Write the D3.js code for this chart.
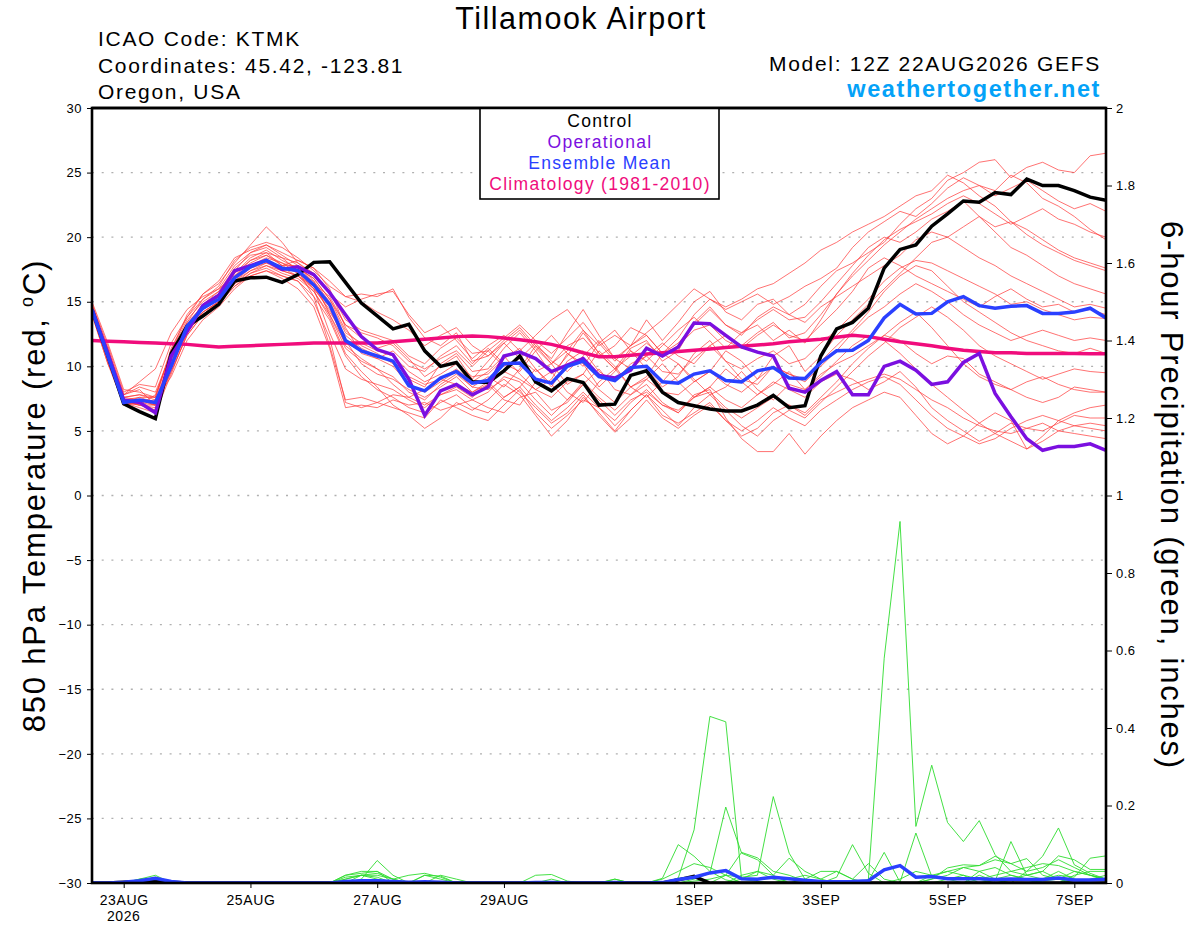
<!DOCTYPE html>
<html>
<head>
<meta charset="utf-8">
<script src="https://cdn.jsdelivr.net/npm/d3@7"></script>
<style>
  body { margin: 0; background: #fff; }
  svg { display: block; font-family: "Liberation Sans", Arial, sans-serif; }
</style>
</head>
<body>
<script>
// 850 hPa temperature, 6-hourly from 12Z 22AUG2026 (65 steps)
var controlTemp = [14.4,10.8,7.1,6.5,5.95, 11.0,13.1,13.9,14.8,16.6, 16.85,16.9,16.5,17.1,18.05, 18.1,16.5,14.9,13.9,12.9,
  13.25,11.2,10.0,10.3,8.8, 8.75,9.65,10.8,8.8,8.1, 9.05,8.75,7.0,7.07,9.3, 9.65,8.0,7.2,6.95,6.7,
  6.55,6.55,7.0,7.75,6.8, 6.95,10.8,12.9,13.4,14.5, 17.6,19.05,19.4,20.85,21.8, 22.8,22.7,23.45,23.3,24.5,
  24.0,24.0,23.6,23.1,22.85];
var operTemp = [14.4,11.0,7.4,7.2,6.4, 10.8,12.7,14.7,15.5,17.4, 17.8,18.2,17.5,17.7,17.1, 15.7,14.0,12.3,11.3,10.9,
  9.0,6.2,8.1,8.6,7.8, 8.4,10.8,11.1,10.6,9.6, 10.1,10.6,9.3,9.1,9.7, 11.4,10.8,11.5,13.35,13.3,
  12.4,11.5,11.1,10.8,8.3, 8.0,8.9,9.6,7.8,7.8, 10.0,10.4,9.7,8.6,8.8, 10.3,11.0,7.9,6.1,4.4,
  3.5,3.8,3.8,4.0,3.5];
var meanTemp = [14.4,10.8,7.2,7.4,7.2, 10.0,13.1,14.5,15.2,16.85, 17.7,18.2,17.6,17.4,16.3, 14.8,12.0,11.2,10.8,10.4,
  8.5,8.1,9.1,9.6,8.7, 8.9,10.2,10.25,9.0,8.7, 10.0,10.4,9.2,8.9,9.9, 10.0,8.8,8.7,9.4,9.65,
  8.9,8.8,9.65,9.9,9.1, 9.05,10.3,11.2,11.25,12.0, 13.75,14.8,14.05,14.1,15.0, 15.4,14.7,14.5,14.65,14.7,
  14.1,14.1,14.2,14.5,13.75];
var climTemp = [12.0,11.95,11.9,11.85,11.8, 11.75,11.7,11.6,11.5,11.55, 11.6,11.65,11.7,11.75,11.8, 11.8,11.8,11.8,11.8,11.9,
  12.0,12.1,12.2,12.3,12.35, 12.3,12.2,12.05,11.9,11.7, 11.4,11.05,10.75,10.75,10.85, 10.95,11.05,11.15,11.25,11.35,
  11.45,11.55,11.65,11.75,11.9, 12.0,12.1,12.25,12.4,12.3, 12.1,11.9,11.75,11.6,11.4, 11.25,11.15,11.05,11.05,11.0,
  11.0,11.0,11.0,10.98,10.97];

// ensemble members (red)
var t01 = [14.6,11.2,7.8,8.2,7.0, 10.5,13.0,14.8,15.6,17.2, 18.4,19.0,18.2,17.6,16.8, 15.2,12.8,11.6,11.0,10.2, 9.0,8.4,10.2,11.0,9.6, 9.8,11.4,12.6,11.2,9.4, 10.8,12.6,11.0,9.8,11.4, 12.0,10.4,11.2,13.4,14.6, 13.2,12.4,13.8,14.6,14.0, 14.8,16.2,17.4,18.0,18.8, 19.6,21.0,22.2,23.0,24.4, 25.0,25.8,26.0,24.6,25.4, 25.8,25.2,25.0,26.3,26.5];
var t02 = [14.2,11.0,7.4,7.6,7.6, 11.2,13.6,15.0,15.8,17.6, 18.6,18.8,17.8,17.8,16.4, 15.4,13.2,12.2,11.4,11.8, 10.6,9.2,10.0,10.8,9.0, 10.4,11.8,10.6,9.6,10.2, 11.6,12.2,10.8,11.6,13.0, 12.4,11.0,12.2,14.0,15.2, 14.4,15.0,15.6,14.8,15.4, 16.2,16.8,17.6,19.2,20.4, 21.2,22.0,21.6,22.6,23.8, 24.6,24.0,23.6,24.8,24.2, 23.0,22.4,21.6,20.6,19.8];
var t03 = [14.8,11.6,8.0,8.6,8.4, 11.8,13.8,15.6,16.4,18.0, 19.4,20.8,19.6,18.0,17.2, 15.6,14.6,15.2,15.6,15.8, 14.0,12.6,13.2,12.0,10.6, 11.6,12.4,11.2,12.4,13.6, 14.4,12.8,11.6,12.4,11.6, 12.6,13.6,14.8,16.0,15.2, 14.6,15.2,16.0,16.4,17.2, 18.0,19.0,19.6,20.4,21.0, 21.6,22.4,23.2,23.6,24.8, 24.2,23.2,22.4,21.2,20.6, 19.8,19.0,18.4,18.0,17.6];
var t04 = [14.4,10.6,7.2,7.0,6.8, 10.0,12.8,14.2,15.0,16.8, 17.6,18.0,17.8,18.2,17.6, 16.0,13.0,11.0,10.6,10.0, 8.6,8.0,8.8,9.6,8.4, 9.2,8.4,9.8,11.6,10.2, 8.6,9.4,11.2,10.0,8.4, 9.2,11.0,10.2,8.8,9.6, 11.2,10.4,9.0,10.8,11.6, 9.6,10.8,12.4,13.6,14.8, 16.0,17.2,18.4,19.6,20.0, 20.8,21.6,20.4,19.2,18.6, 17.8,17.0,16.4,16.0,15.6];
var t05 = [14.6,10.4,7.0,7.2,6.6, 9.6,12.4,14.0,15.0,16.4, 17.2,17.6,17.0,16.6,15.0, 12.2,7.2,6.8,7.2,6.8, 6.4,6.0,7.4,6.8,6.2, 5.8,7.0,8.2,6.4,5.2, 6.2,7.4,6.8,5.4,6.6, 7.8,6.2,5.6,6.4,7.2, 5.8,4.6,5.2,6.4,7.0, 6.2,7.4,8.0,8.6,9.0, 9.4,9.0,8.2,7.4,6.8, 6.0,5.4,5.0,4.8,5.2, 5.6,5.0,4.8,4.6,4.4];
var t06 = [14.0,10.2,7.6,7.8,7.4, 9.2,12.0,13.6,14.6,16.0, 17.0,17.4,16.8,16.0,14.6, 11.4,6.8,7.0,6.8,7.4, 7.0,7.2,6.6,7.0,7.4, 6.8,6.4,7.6,8.0,6.6, 7.2,8.6,7.4,6.2,7.4, 8.0,7.0,6.4,7.6,8.4, 7.4,6.8,7.8,8.8,8.2, 7.6,8.8,9.4,9.0,8.2, 8.8,9.6,8.4,6.8,5.8, 5.0,4.2,4.8,5.6,5.2, 5.0,5.6,6.2,6.0,6.0];
var t07 = [14.4,11.4,7.8,8.8,9.8, 12.6,14.4,15.4,16.0,17.0, 17.8,18.4,18.0,17.2,16.0, 14.6,11.6,10.6,9.8,8.6, 7.6,7.0,7.8,8.4,7.6, 8.6,7.4,7.0,8.8,9.6, 8.0,7.2,8.8,9.8,8.4, 7.6,8.8,10.2,9.0,7.8, 8.4,9.6,8.2,7.4,8.6, 8.2,9.4,10.2,10.8,11.6, 12.4,12.0,11.0,10.2,10.8, 10.6,9.4,8.8,8.2,7.6, 7.2,7.6,8.4,8.2,8.0];
var t08 = [14.6,11.0,7.4,7.2,7.4, 10.8,13.4,14.6,15.4,17.0, 18.2,18.6,17.8,17.2,16.6, 15.0,12.6,11.8,11.2,10.8, 9.6,8.8,9.4,10.2,9.2, 9.4,10.6,11.4,9.8,8.4, 10.4,11.2,9.6,8.8,10.2, 10.8,9.6,9.4,10.6,11.6, 10.4,9.8,10.6,11.2,10.2, 10.6,11.8,12.8,14.0,15.2, 16.6,17.6,18.2,18.0,17.4, 16.8,16.2,15.6,14.8,15.0, 14.4,14.0,13.6,13.8,13.7];
var t09 = [14.2,10.8,7.0,7.4,7.0, 10.2,13.2,14.4,15.2,16.6, 17.4,18.0,17.4,17.0,16.2, 14.2,12.4,11.4,10.8,10.4, 9.2,8.6,9.0,9.8,8.8, 9.6,10.8,9.4,8.2,9.0, 11.0,10.2,8.4,9.6,11.2, 9.8,8.4,9.2,11.0,12.0, 10.4,9.0,8.6,10.0,9.4, 9.0,10.4,11.6,12.8,14.2, 15.8,17.0,17.8,17.4,16.2, 15.0,14.2,13.4,12.6,12.0, 11.6,11.2,11.0,11.4,11.0];
var t10 = [15.0,11.8,8.2,8.0,7.6, 11.4,13.8,15.2,16.2,18.2, 19.2,19.6,19.2,18.4,17.4, 16.2,15.4,15.6,15.4,16.0, 13.8,12.2,11.6,12.6,10.4, 10.8,12.0,13.0,11.6,10.6, 12.6,14.4,12.4,10.6,11.6, 13.6,12.0,13.4,15.0,15.8, 14.2,13.6,14.8,15.2,14.0, 13.4,14.6,15.4,16.2,17.0, 17.8,18.6,19.8,20.4,20.0, 19.2,18.4,17.8,17.0,16.4, 15.8,15.2,14.6,14.8,14.5];
var t11 = [14.4,10.6,7.2,6.8,6.4, 9.4,12.6,14.2,15.0,16.2, 17.2,17.8,17.2,16.8,15.8, 13.8,11.0,9.6,8.4,7.0, 6.2,5.2,6.0,7.2,6.6, 7.4,8.6,7.8,6.2,4.6, 5.8,7.6,6.4,5.0,6.6, 7.8,6.6,5.4,6.8,7.8, 6.6,5.4,4.6,5.8,6.6, 6.0,7.2,8.4,9.6,10.8, 11.8,13.0,13.8,14.6,13.8, 12.8,11.6,10.8,10.2,9.6, 9.0,9.4,9.8,9.6,9.5];
var t12 = [14.6,11.0,7.6,7.4,7.2, 10.4,13.0,14.6,15.4,16.8, 17.8,18.2,17.6,17.4,16.0, 12.6,9.8,9.0,8.6,8.2, 7.4,6.8,7.8,8.2,7.4, 8.0,9.2,8.8,7.4,6.2, 7.4,8.8,7.6,6.6,7.8, 8.6,7.2,6.4,7.8,8.2, 6.0,4.4,3.4,3.4,4.8, 3.2,4.6,5.8,6.8,7.4, 8.0,7.6,6.2,4.8,4.0, 4.6,5.6,6.4,5.8,3.6, 4.2,5.0,5.4,5.2,5.0];
var t13 = [14.2,11.2,7.8,8.4,8.0, 11.0,13.2,14.8,15.8,17.4, 18.8,19.4,18.6,17.8,16.6, 14.0,11.8,11.2,10.6,11.2, 10.0,9.6,10.8,11.6,10.2, 11.4,10.2,9.6,11.2,12.4, 11.0,10.0,11.8,12.8,11.2, 10.4,11.6,12.8,13.8,12.6, 11.4,12.6,13.2,12.0,12.8, 11.8,13.6,15.6,17.2,18.6, 19.8,20.6,21.2,21.8,22.6, 23.2,22.6,21.8,21.0,21.6, 22.2,21.4,21.0,20.4,20.0];
var t14 = [14.8,11.4,7.4,7.0,7.8, 11.0,13.4,15.2,16.0,17.8, 18.8,19.2,18.4,17.4,15.4, 11.6,7.4,7.6,7.2,7.8, 7.6,8.2,9.0,8.6,8.0, 8.6,9.6,9.0,8.2,7.6, 8.8,9.4,8.2,7.2,8.4, 9.0,8.0,7.8,8.8,9.6, 8.6,8.0,9.0,10.0,9.4, 8.8,10.0,11.2,12.6,13.8, 14.6,15.6,16.4,15.8,15.0, 14.0,13.2,12.6,12.0,12.4, 12.8,12.4,12.0,12.2,12.0];
var t15 = [14.4,10.8,7.2,7.6,7.2, 10.6,13.2,14.8,15.6,17.2, 18.2,18.8,18.4,18.0,17.0, 15.8,13.6,12.8,12.4,12.0, 10.8,10.2,11.4,12.2,11.0, 11.2,12.2,13.2,12.0,11.0, 12.2,13.4,11.8,10.4,11.6, 12.4,11.0,11.8,13.2,14.4, 13.2,12.6,13.6,14.4,13.6, 13.8,15.0,16.4,17.8,19.2, 20.0,19.6,20.4,21.4,22.0, 22.8,21.6,20.8,21.2,20.2, 19.4,18.8,18.2,17.8,17.4];
var t16 = [14.6,10.6,7.4,7.0,6.6, 9.8,12.8,14.4,15.2,16.6, 17.6,18.2,17.6,17.0,16.0, 14.4,12.0,10.2,9.4,9.0, 8.2,7.6,8.4,9.2,8.0, 8.8,7.6,8.4,9.8,8.6, 7.4,8.6,9.8,8.2,7.8, 9.0,10.2,8.8,7.6,8.4, 9.8,8.8,7.8,8.6,9.6, 8.2,9.2,10.4,11.6,12.4, 12.0,11.0,9.8,8.6,7.6, 6.6,5.6,4.8,4.2,3.6, 4.6,5.8,6.4,6.8,7.0];
var t17 = [14.6,11.2,7.6,7.8,7.6, 11.2,14.0,15.6,16.6,18.4, 19.0,19.4,18.8,18.2,17.6, 16.6,15.4,15.0,14.2,13.6, 12.8,11.6,12.4,13.0,11.6, 10.8,11.8,12.8,11.4,10.2, 11.2,12.8,11.0,9.8,10.8, 11.8,10.8,11.6,12.8,13.2, 12.0,11.4,12.4,13.2,12.4, 12.0,13.2,14.4,15.8,17.6, 18.4,17.8,17.0,16.4,15.8, 15.2,14.6,15.4,16.0,15.2, 14.6,14.8,14.2,14.4,14.0];
var t18 = [14.0,10.2,7.0,7.2,7.0, 9.6,12.4,14.0,14.8,16.2, 17.0,17.4,17.0,16.6,15.4, 13.6,10.8,9.2,8.2,7.6, 6.8,6.4,7.2,7.8,6.8, 6.4,7.6,8.4,7.0,5.8, 6.8,8.0,6.8,5.8,7.2, 8.2,7.0,6.6,7.6,8.0, 6.8,6.0,6.8,7.6,7.0, 6.4,7.6,8.8,10.2,11.4, 12.4,13.4,14.2,13.0,11.6, 10.2,9.2,8.6,8.2,8.8, 9.2,8.6,8.2,8.0,8.0];
var t19 = [14.4,11.0,7.4,7.4,7.0, 10.2,13.0,14.6,15.4,17.0, 18.0,18.6,18.0,17.6,16.8, 15.2,13.2,12.6,12.2,11.6, 10.4,9.8,10.6,11.2,10.0, 11.2,10.0,10.6,11.8,10.4, 9.6,10.8,12.0,10.6,9.8, 10.8,11.8,10.8,10.2,11.6, 12.4,11.6,12.6,13.4,12.2, 12.6,14.0,15.6,17.0,18.2, 19.4,20.4,21.4,22.2,23.0, 23.6,24.0,23.2,23.8,24.4, 23.6,22.8,22.2,22.6,22.0];
var t20 = [14.6,10.8,7.2,7.0,7.0, 10.0,12.6,14.2,15.0,16.4, 17.4,17.8,17.4,17.0,15.8, 14.0,11.4,10.4,9.8,9.2, 8.0,7.4,8.6,9.4,8.4, 8.2,9.0,8.0,6.8,5.6, 6.4,7.8,6.2,4.9,6.0, 7.4,6.0,5.2,6.2,7.0, 5.8,5.0,5.8,6.8,6.0, 5.4,6.6,7.4,8.2,8.8, 9.2,8.6,7.4,6.2,5.2, 4.6,4.0,4.4,5.2,5.8, 6.2,5.8,5.4,5.6,5.4];

// 6-hour precipitation, inches (green members, blue mean, black control)
var p01 = [0,0,0,0.01,0.02, 0,0,0,0,0, 0,0,0,0,0, 0,0.01,0.02,0.01,0, 0,0,0,0,0, 0,0,0,0,0, 0,0,0,0,0, 0,0,0.013,0.137,0.43, 0.416,0.01,0.004,0,0, 0,0,0,0,0, 0,0.01,0.03,0.02,0.01, 0,0,0.01,0.02,0.01, 0,0,0,0.01,0.02];
var p02 = [0,0,0,0.005,0.015, 0,0,0,0,0, 0,0,0,0,0, 0,0.02,0.025,0.03,0.01, 0,0.02,0.01,0,0, 0,0,0,0,0, 0,0,0,0,0, 0,0,0,0.01,0.025, 0.196,0.077,0.06,0.02,0, 0,0,0,0,0, 0,0,0,0.01,0.02, 0.04,0.03,0.01,0,0, 0,0,0.01,0,0];
var p03 = [0,0,0,0.01,0.012, 0,0,0,0,0, 0,0,0,0,0, 0,0.015,0.02,0.02,0.01, 0,0,0,0,0, 0,0,0,0,0, 0,0,0,0,0, 0,0.012,0.099,0.069,0.03, 0.008,0,0,0,0, 0,0,0,0,0, 0,0,0,0,0, 0,0.01,0.02,0.03,0.04, 0.05,0.045,0.03,0.02,0.01];
var p04 = [0,0,0,0,0, 0,0,0,0,0, 0,0,0,0,0, 0,0,0,0,0, 0,0,0.02,0.01,0, 0,0,0,0,0, 0,0,0,0,0, 0,0,0,0.005,0.01, 0.02,0.015,0.02,0.223,0.077, 0.01,0,0,0,0, 0,0,0,0,0.01, 0.02,0.01,0,0,0, 0,0,0,0,0];
var p05 = [0,0,0,0,0.01, 0,0,0,0,0, 0,0,0,0,0, 0,0,0.01,0.058,0.02, 0,0,0,0,0, 0,0,0,0.02,0.022, 0.005,0,0,0,0, 0,0,0,0,0, 0.02,0.079,0.065,0.03,0.02, 0.005,0,0,0,0, 0,0,0,0,0, 0,0.03,0.04,0.02,0.01, 0,0,0,0,0];
var p06 = [0,0,0,0,0, 0,0,0,0,0, 0,0,0,0,0, 0,0.01,0.02,0.025,0.01, 0.02,0.025,0.015,0,0, 0,0,0,0,0, 0,0,0,0,0, 0,0,0,0,0, 0,0.01,0.03,0.02,0.064, 0.03,0.01,0,0,0, 0,0,0,0,0, 0,0,0,0,0, 0.005,0.01,0.03,0.02,0.01];
var p07 = [0,0,0,0.008,0.01, 0,0,0,0,0, 0,0,0,0,0, 0,0,0,0,0, 0,0,0,0,0, 0,0,0,0,0, 0,0,0,0.01,0, 0,0,0,0,0, 0,0,0,0,0, 0,0,0.015,0.099,0.025, 0,0,0,0,0, 0,0,0,0,0, 0,0,0,0,0];
var p08 = [0,0,0,0,0, 0,0,0,0,0, 0,0,0,0,0, 0,0,0,0,0, 0,0,0,0,0, 0,0,0,0,0, 0,0,0,0,0, 0,0,0,0,0, 0,0,0,0,0, 0,0,0,0,0.009, 0.58,0.933,0.146,0.304,0.156, 0.107,0.161,0.073,0.03,0.02, 0.03,0.01,0,0,0];
var p09 = [0,0,0,0,0, 0,0,0,0,0, 0,0,0,0,0, 0,0,0,0,0, 0,0,0,0,0, 0,0,0,0,0, 0,0,0,0,0, 0,0,0,0,0, 0,0,0,0,0, 0,0,0,0,0.005, 0.079,0.002,0.129,0.017,0.03, 0.04,0.045,0.06,0.05,0.03, 0.04,0.06,0.04,0.02,0.01];
var p10 = [0,0,0,0,0, 0,0,0,0,0, 0,0,0,0,0, 0,0,0,0,0, 0,0,0,0,0, 0,0,0,0,0, 0,0,0,0,0, 0,0,0,0,0, 0,0,0,0,0.01, 0.02,0.01,0.03,0.01,0.05, 0.01,0,0,0,0, 0,0,0,0,0, 0,0,0,0,0];
var p11 = [0,0,0,0,0, 0,0,0,0,0, 0,0,0,0,0, 0,0,0,0,0, 0,0,0,0,0, 0,0,0,0,0, 0,0,0,0,0, 0,0,0,0,0, 0,0,0,0,0, 0,0,0,0,0, 0,0,0,0,0, 0,0.02,0.005,0.107,0.02, 0.01,0.03,0.01,0,0];
var p12 = [0,0,0,0,0, 0,0,0,0,0, 0,0,0,0,0, 0,0,0,0,0, 0,0,0,0,0, 0,0,0,0,0, 0,0,0,0,0, 0,0,0,0,0, 0,0,0,0,0, 0,0,0,0,0, 0,0,0,0,0, 0,0,0,0,0.03, 0.069,0.142,0.047,0.025,0.01];
var p13 = [0,0,0,0,0, 0,0,0,0,0, 0,0,0,0,0, 0,0,0.02,0.015,0, 0,0,0,0,0, 0,0,0,0,0, 0,0,0,0,0, 0,0,0,0,0, 0,0,0,0,0, 0,0,0,0,0, 0,0,0,0,0, 0,0,0,0,0, 0.01,0.02,0.015,0.064,0.07];
var p14 = [0,0,0,0,0, 0,0,0,0,0, 0,0,0,0,0, 0,0,0,0,0, 0,0,0,0,0, 0,0,0,0,0, 0,0,0,0,0, 0,0,0,0,0, 0,0,0,0,0, 0,0,0,0,0, 0,0,0,0,0, 0,0,0,0.01,0.02, 0.03,0.07,0.06,0.035,0.035];
var p15 = [0,0,0,0,0, 0,0,0,0,0, 0,0,0,0,0, 0,0,0,0,0, 0,0,0,0,0, 0,0,0,0,0, 0,0,0,0,0, 0,0,0,0,0, 0,0,0,0,0, 0,0,0,0,0, 0,0,0,0.01,0.039, 0.047,0.045,0.069,0.05,0.063, 0.02,0.01,0,0,0];
var p16 = [0,0,0,0,0, 0,0,0,0,0, 0,0,0,0,0, 0,0,0,0,0, 0,0,0,0,0, 0,0,0,0,0.01, 0,0,0,0,0, 0,0,0,0,0, 0,0,0,0,0, 0.01,0.03,0.03,0.01,0, 0,0,0,0,0, 0,0,0,0,0, 0,0,0,0,0];
var p17 = [0,0,0,0,0, 0,0,0,0,0, 0,0,0,0,0, 0,0,0,0,0, 0,0,0,0,0, 0,0,0,0,0, 0,0,0,0.01,0, 0,0.01,0.03,0.05,0.04, 0.02,0,0,0,0, 0,0,0,0,0, 0,0,0,0,0, 0,0,0,0,0, 0,0,0,0,0];
var p18 = [0,0,0,0,0.01, 0,0,0,0,0, 0,0,0,0,0, 0,0,0,0,0, 0,0.02,0.018,0,0, 0,0,0,0,0, 0,0,0,0,0, 0,0,0,0,0, 0,0.02,0.03,0.01,0, 0,0,0,0,0, 0,0,0,0,0, 0,0,0,0,0, 0,0,0,0,0];
var p19 = [0,0,0,0,0, 0,0,0,0,0, 0,0,0,0,0, 0,0.02,0.03,0.03,0, 0,0,0,0,0, 0,0,0,0,0, 0,0,0,0,0, 0,0,0,0,0, 0,0,0,0,0, 0,0,0,0,0, 0,0,0,0.02,0.03, 0.02,0,0,0,0, 0,0,0,0,0];
var p20 = [0,0,0,0,0, 0,0,0,0,0, 0,0,0,0,0, 0,0,0,0,0, 0,0,0,0,0, 0,0,0,0,0, 0,0,0,0,0, 0,0,0,0,0, 0,0,0,0,0, 0,0,0,0,0, 0,0,0,0,0, 0,0,0,0,0, 0,0,0.02,0.03,0.03];
var meanPrecip = [0,0,0.002,0.006,0.012, 0.004,0,0,0,0, 0,0,0,0,0, 0,0.004,0.006,0.006,0.004, 0.002,0.003,0.002,0,0, 0,0,0,0.001,0.001, 0,0,0,0.001,0, 0,0.001,0.009,0.015,0.026, 0.032,0.011,0.01,0.015,0.011, 0.007,0.004,0.003,0.004,0.006, 0.034,0.045,0.015,0.017,0.011, 0.011,0.011,0.009,0.01,0.009, 0.009,0.013,0.008,0.008,0.01];
var controlPrecip = [0,0,0.002,0.004,0.008, 0.002,0,0,0,0, 0,0,0,0,0, 0,0,0.003,0.004,0, 0,0,0,0,0, 0,0,0,0,0, 0,0,0,0,0, 0,0,0.008,0.017,0, 0,0,0,0,0, 0,0,0,0,0, 0,0,0,0,0, 0,0,0,0,0, 0,0,0,0,0];

var tempMembers = [t01,t02,t03,t04,t05,t06,t07,t08,t09,t10,t11,t12,t13,t14,t15,t16,t17,t18,t19,t20];
var precipMembers = [p01,p02,p03,p04,p05,p06,p07,p08,p09,p10,p11,p12,p13,p14,p15,p16,p17,p18,p19,p20];

var xTickDates = ["2026-08-23","2026-08-25","2026-08-27","2026-08-29","2026-09-01","2026-09-03","2026-09-05","2026-09-07"];
var xTickLabels = ["23AUG","25AUG","27AUG","29AUG","1SEP","3SEP","5SEP","7SEP"];
var tempTicks = [-30,-25,-20,-15,-10,-5,0,5,10,15,20,25,30];
var precipTicks = [0,0.2,0.4,0.6,0.8,1,1.2,1.4,1.6,1.8,2];
var legendItems = ["Control","Operational","Ensemble Mean","Climatology (1981-2010)"];
var legendColors = ["#000000","#7b0fe0","#2a40ff","#f00c7c"];

var plotL = 92, plotR = 1106, plotT = 108, plotB = 883;

var svg = d3.select("body").append("svg")
    .attr("width", 1200)
    .attr("height", 927);

var runStart = new Date(Date.UTC(2026, 7, 22, 12));
var times = controlTemp.map(function(d, i) {
    return new Date(runStart.getTime() + i * 6 * 3600 * 1000);
});

var x = d3.scaleUtc().domain([times[0], times[times.length - 1]]).range([plotL, plotR]);
var yT = d3.scaleLinear().domain([-30, 30]).range([plotB, plotT]);
var yP = d3.scaleLinear().domain([0, 2]).range([plotB, plotT]);

svg.append("clipPath").attr("id", "plotclip")
    .append("rect").attr("x", plotL).attr("y", plotT).attr("width", plotR - plotL).attr("height", plotB - plotT);

// dotted grid
svg.append("g").selectAll("line")
    .data(tempTicks.filter(function(d) { return d > -30 && d < 30; }))
    .enter().append("line")
    .attr("x1", plotL).attr("x2", plotR)
    .attr("y1", function(d) { return yT(d); })
    .attr("y2", function(d) { return yT(d); })
    .attr("stroke", "#b0b0b0")
    .attr("stroke-width", 1.3)
    .attr("stroke-dasharray", "2,7.7");

var tempLine = d3.line()
    .x(function(d, i) { return x(times[i]); })
    .y(function(d) { return yT(d); });
var precipLine = d3.line()
    .x(function(d, i) { return x(times[i]); })
    .y(function(d) { return yP(d); });

var plot = svg.append("g").attr("clip-path", "url(#plotclip)");

plot.selectAll(".member")
    .data(tempMembers)
    .enter().append("path")
    .attr("class", "member")
    .attr("d", tempLine)
    .attr("fill", "none")
    .attr("stroke", "#ff3b3b")
    .attr("stroke-opacity", 0.8)
    .attr("stroke-width", 0.9);

plot.selectAll(".pmember")
    .data(precipMembers)
    .enter().append("path")
    .attr("class", "pmember")
    .attr("d", precipLine)
    .attr("fill", "none")
    .attr("stroke", "#2fdc2f")
    .attr("stroke-width", 0.9);

plot.append("path").datum(controlPrecip).attr("d", precipLine)
    .attr("fill", "none").attr("stroke", "#000").attr("stroke-width", 3.5);
plot.append("path").datum(meanPrecip).attr("d", precipLine)
    .attr("fill", "none").attr("stroke", "#2a40ff").attr("stroke-width", 3.5);

plot.append("path").datum(climTemp).attr("d", tempLine)
    .attr("fill", "none").attr("stroke", "#f00c7c").attr("stroke-width", 3.5);
plot.append("path").datum(controlTemp).attr("d", tempLine)
    .attr("fill", "none").attr("stroke", "#000").attr("stroke-width", 3.5);
plot.append("path").datum(operTemp).attr("d", tempLine)
    .attr("fill", "none").attr("stroke", "#7b0fe0").attr("stroke-width", 3.5);
plot.append("path").datum(meanTemp).attr("d", tempLine)
    .attr("fill", "none").attr("stroke", "#2a40ff").attr("stroke-width", 3.5);

// axes
var parseDay = d3.utcParse("%Y-%m-%d");
var xAxis = d3.axisBottom(x)
    .tickValues(xTickDates.map(parseDay))
    .tickFormat(function(d, i) { return xTickLabels[i]; })
    .tickSize(5)
    .tickPadding(7);
var gx = svg.append("g").attr("transform", "translate(0," + plotB + ")").call(xAxis);
gx.select(".domain").remove();
gx.selectAll("text").attr("font-size", 14).attr("letter-spacing", 0.6).attr("fill", "#000");
gx.append("text")
    .attr("x", x(parseDay(xTickDates[0])))
    .attr("y", 38)
    .attr("text-anchor", "middle")
    .attr("font-size", 14).attr("letter-spacing", 0.6).attr("fill", "#000")
    .text("2026");

var gyl = svg.append("g").attr("transform", "translate(" + plotL + ",0)")
    .call(d3.axisLeft(yT).tickValues(tempTicks).tickSize(5).tickPadding(5));
gyl.select(".domain").remove();
gyl.selectAll("text").attr("font-size", 13).attr("letter-spacing", 0.5).attr("fill", "#000");

var gyr = svg.append("g").attr("transform", "translate(" + plotR + ",0)")
    .call(d3.axisRight(yP).tickValues(precipTicks).tickSize(6).tickPadding(4)
        .tickFormat(function(d) { return String(+d.toFixed(1)); }));
gyr.select(".domain").remove();
gyr.selectAll("text").attr("font-size", 13).attr("letter-spacing", 0.5).attr("fill", "#000");

// frame
svg.append("rect")
    .attr("x", plotL).attr("y", plotT)
    .attr("width", plotR - plotL).attr("height", plotB - plotT)
    .attr("fill", "none").attr("stroke", "#000").attr("stroke-width", 2.6);

// legend box
var legend = svg.append("g");
legend.append("rect")
    .attr("x", 480).attr("y", plotT)
    .attr("width", 239).attr("height", 91)
    .attr("fill", "#fff").attr("stroke", "#000").attr("stroke-width", 1.6);
legend.selectAll("text")
    .data(legendItems)
    .enter().append("text")
    .attr("x", 600)
    .attr("y", function(d, i) { return 127 + i * 21.1; })
    .attr("text-anchor", "middle")
    .attr("font-size", 17.5)
    .attr("letter-spacing", 1.3)
    .attr("fill", function(d, i) { return legendColors[i]; })
    .text(function(d) { return d; });
svg.append("line").attr("x1", plotL).attr("x2", plotR).attr("y1", plotT).attr("y2", plotT)
    .attr("stroke", "#000").attr("stroke-width", 2.6);

// header texts
svg.append("text").attr("x", 581).attr("y", 29).attr("text-anchor", "middle")
    .attr("font-size", 30.5).attr("letter-spacing", 1.5).text("Tillamook Airport");

var info = ["ICAO Code: KTMK", "Coordinates: 45.42, -123.81", "Oregon, USA"];
svg.append("g").selectAll("text").data(info).enter().append("text")
    .attr("x", 98)
    .attr("y", function(d, i) { return 46 + i * 26.6; })
    .attr("font-size", 21).attr("letter-spacing", 1.7)
    .text(function(d) { return d; });

svg.append("text").attr("x", 1101).attr("y", 71).attr("text-anchor", "end")
    .attr("font-size", 21).attr("letter-spacing", 1.7).text("Model: 12Z 22AUG2026 GEFS");
svg.append("text").attr("x", 1101).attr("y", 97).attr("text-anchor", "end")
    .attr("font-size", 23.5).attr("font-weight", "bold").attr("letter-spacing", 1.6)
    .attr("fill", "#04a2f8").text("weathertogether.net");

// axis titles
var lt = svg.append("text")
    .attr("transform", "translate(45," + yT(0) + ") rotate(-90)")
    .attr("text-anchor", "middle")
    .attr("font-size", 31).attr("letter-spacing", 1.8);
lt.append("tspan").text("850 hPa Temperature (red, ");
lt.append("tspan").attr("font-size", 18).attr("dy", -12).text("o");
lt.append("tspan").attr("dy", 12).text("C)");

svg.append("text")
    .attr("transform", "translate(1161," + yT(0) + ") rotate(90)")
    .attr("text-anchor", "middle")
    .attr("font-size", 31).attr("letter-spacing", 1.8)
    .text("6-hour Precipitation (green, inches)");
</script>
</body>
</html>
